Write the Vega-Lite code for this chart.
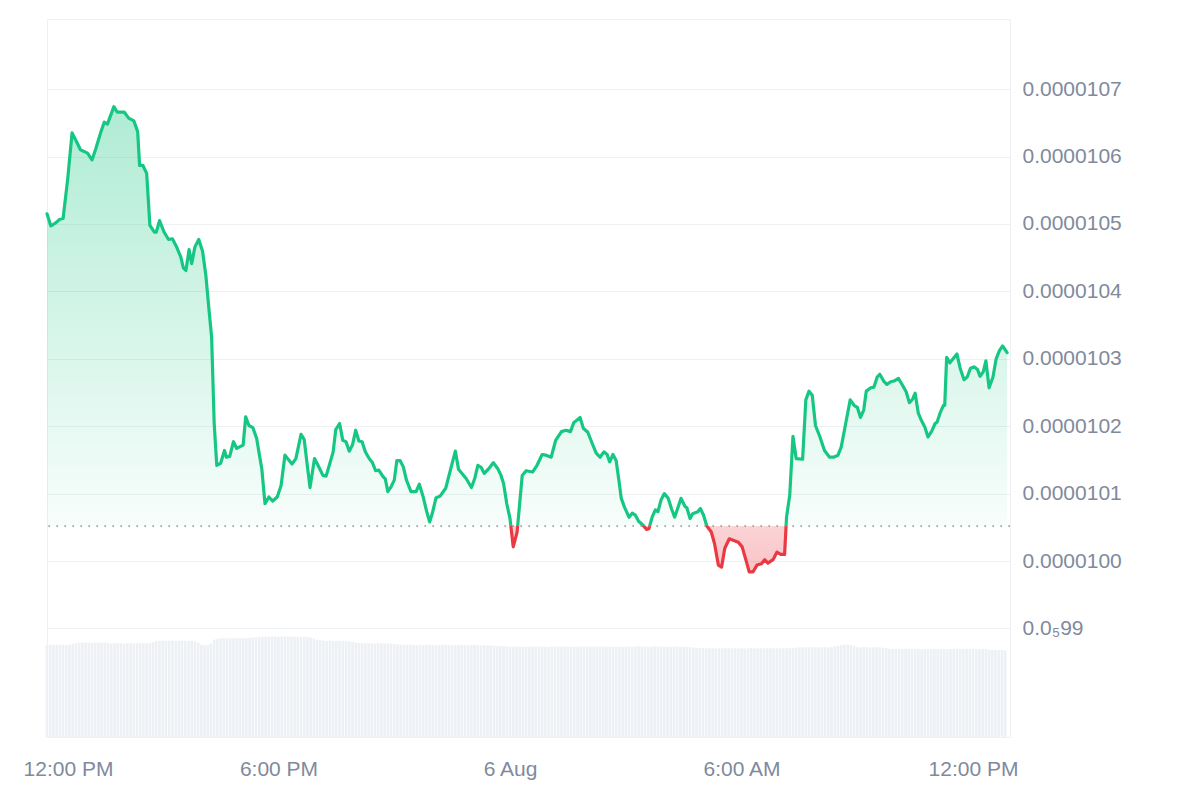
{
  "$schema": "https://vega.github.io/schema/vega-lite/v6.json",
  "width": 963,
  "height": 718,
  "autosize": {"type": "none"},
  "padding": {"left": 47, "top": 19, "right": 190, "bottom": 63},
  "config": {"view": {"stroke": "#eef0f3", "strokeWidth": 1}, "font": "Liberation Sans"},
  "datasets": {
    "price": [
      {"t":"2024-08-05T12:00","p":0.000010515},{"t":"2024-08-05T12:06","p":0.000010497},{"t":"2024-08-05T12:14","p":0.000010502},{"t":"2024-08-05T12:20","p":0.000010507},{"t":"2024-08-05T12:25","p":0.000010508},{"t":"2024-08-05T12:32","p":0.000010565},{"t":"2024-08-05T12:39","p":0.000010635},{"t":"2024-08-05T12:46","p":0.000010622},{"t":"2024-08-05T12:52","p":0.000010610},
      {"t":"2024-08-05T13:03","p":0.000010605},{"t":"2024-08-05T13:10","p":0.000010595},{"t":"2024-08-05T13:16","p":0.000010612},{"t":"2024-08-05T13:24","p":0.000010637},{"t":"2024-08-05T13:29","p":0.000010651},{"t":"2024-08-05T13:34","p":0.000010648},{"t":"2024-08-05T13:39","p":0.000010661},{"t":"2024-08-05T13:44","p":0.000010674},{"t":"2024-08-05T13:49","p":0.000010666},
      {"t":"2024-08-05T14:00","p":0.000010666},{"t":"2024-08-05T14:07","p":0.000010657},{"t":"2024-08-05T14:15","p":0.000010653},{"t":"2024-08-05T14:21","p":0.000010637},{"t":"2024-08-05T14:24","p":0.000010587},{"t":"2024-08-05T14:29","p":0.000010587},{"t":"2024-08-05T14:35","p":0.000010575},{"t":"2024-08-05T14:40","p":0.000010498},{"t":"2024-08-05T14:47","p":0.000010488},{"t":"2024-08-05T14:50","p":0.000010488},{"t":"2024-08-05T14:55","p":0.000010505},
      {"t":"2024-08-05T15:02","p":0.000010488},{"t":"2024-08-05T15:09","p":0.000010477},{"t":"2024-08-05T15:15","p":0.000010478},{"t":"2024-08-05T15:21","p":0.000010467},{"t":"2024-08-05T15:28","p":0.000010451},{"t":"2024-08-05T15:32","p":0.000010435},{"t":"2024-08-05T15:36","p":0.000010431},{"t":"2024-08-05T15:41","p":0.000010462},{"t":"2024-08-05T15:45","p":0.000010441},{"t":"2024-08-05T15:50","p":0.000010466},{"t":"2024-08-05T15:56","p":0.000010477},
      {"t":"2024-08-05T16:02","p":0.000010459},{"t":"2024-08-05T16:07","p":0.000010424},{"t":"2024-08-05T16:12","p":0.000010372},{"t":"2024-08-05T16:16","p":0.000010332},{"t":"2024-08-05T16:20","p":0.000010204},{"t":"2024-08-05T16:24","p":0.000010142},{"t":"2024-08-05T16:30","p":0.000010145},{"t":"2024-08-05T16:36","p":0.000010164},{"t":"2024-08-05T16:39","p":0.000010154},{"t":"2024-08-05T16:44","p":0.000010155},{"t":"2024-08-05T16:50","p":0.000010177},{"t":"2024-08-05T16:55","p":0.000010167},
      {"t":"2024-08-05T17:05","p":0.000010172},{"t":"2024-08-05T17:09","p":0.000010214},{"t":"2024-08-05T17:14","p":0.000010201},{"t":"2024-08-05T17:20","p":0.000010198},{"t":"2024-08-05T17:26","p":0.000010182},{"t":"2024-08-05T17:30","p":0.000010159},{"t":"2024-08-05T17:34","p":0.000010137},{"t":"2024-08-05T17:39","p":0.000010085},{"t":"2024-08-05T17:45","p":0.000010095},{"t":"2024-08-05T17:51","p":0.000010089},{"t":"2024-08-05T17:58","p":0.000010095},
      {"t":"2024-08-05T18:04","p":0.000010112},{"t":"2024-08-05T18:10","p":0.000010157},{"t":"2024-08-05T18:21","p":0.000010144},{"t":"2024-08-05T18:27","p":0.000010152},{"t":"2024-08-05T18:35","p":0.000010188},{"t":"2024-08-05T18:40","p":0.000010180},{"t":"2024-08-05T18:45","p":0.000010140},{"t":"2024-08-05T18:49","p":0.000010109},{"t":"2024-08-05T18:56","p":0.000010152},
      {"t":"2024-08-05T19:02","p":0.000010141},{"t":"2024-08-05T19:09","p":0.000010127},{"t":"2024-08-05T19:14","p":0.000010126},{"t":"2024-08-05T19:19","p":0.000010142},{"t":"2024-08-05T19:25","p":0.000010162},{"t":"2024-08-05T19:29","p":0.000010195},{"t":"2024-08-05T19:35","p":0.000010204},{"t":"2024-08-05T19:40","p":0.000010179},{"t":"2024-08-05T19:45","p":0.000010177},{"t":"2024-08-05T19:50","p":0.000010163},{"t":"2024-08-05T19:55","p":0.000010172},
      {"t":"2024-08-05T20:00","p":0.000010194},{"t":"2024-08-05T20:05","p":0.000010178},{"t":"2024-08-05T20:10","p":0.000010177},{"t":"2024-08-05T20:15","p":0.000010162},{"t":"2024-08-05T20:21","p":0.000010152},{"t":"2024-08-05T20:26","p":0.000010146},{"t":"2024-08-05T20:31","p":0.000010134},{"t":"2024-08-05T20:36","p":0.000010135},{"t":"2024-08-05T20:42","p":0.000010126},{"t":"2024-08-05T20:46","p":0.000010122},{"t":"2024-08-05T20:50","p":0.000010103},{"t":"2024-08-05T20:55","p":0.000010110},
      {"t":"2024-08-05T21:00","p":0.000010120},{"t":"2024-08-05T21:04","p":0.000010149},{"t":"2024-08-05T21:09","p":0.000010149},{"t":"2024-08-05T21:14","p":0.000010140},{"t":"2024-08-05T21:19","p":0.000010120},{"t":"2024-08-05T21:26","p":0.000010103},{"t":"2024-08-05T21:34","p":0.000010103},{"t":"2024-08-05T21:39","p":0.000010114},{"t":"2024-08-05T21:45","p":0.000010095},{"t":"2024-08-05T21:50","p":0.000010075},{"t":"2024-08-05T21:55","p":0.000010058},{"t":"2024-08-05T21:59","p":0.000010070},
      {"t":"2024-08-05T22:05","p":0.000010094},{"t":"2024-08-05T22:11","p":0.000010096},{"t":"2024-08-05T22:20","p":0.000010108},{"t":"2024-08-05T22:26","p":0.000010130},{"t":"2024-08-05T22:35","p":0.000010163},{"t":"2024-08-05T22:40","p":0.000010136},{"t":"2024-08-05T22:46","p":0.000010129},{"t":"2024-08-05T22:52","p":0.000010122},
      {"t":"2024-08-05T23:00","p":0.000010109},{"t":"2024-08-05T23:05","p":0.000010122},{"t":"2024-08-05T23:10","p":0.000010142},{"t":"2024-08-05T23:15","p":0.000010139},{"t":"2024-08-05T23:20","p":0.000010130},{"t":"2024-08-05T23:27","p":0.000010137},{"t":"2024-08-05T23:34","p":0.000010146},{"t":"2024-08-05T23:41","p":0.000010137},{"t":"2024-08-05T23:46","p":0.000010127},{"t":"2024-08-05T23:50","p":0.000010115},{"t":"2024-08-05T23:55","p":0.000010085},
      {"t":"2024-08-06T00:00","p":0.000010063},{"t":"2024-08-06T00:05","p":0.000010021},{"t":"2024-08-06T00:11","p":0.000010043},{"t":"2024-08-06T00:15","p":0.000010085},{"t":"2024-08-06T00:19","p":0.000010127},{"t":"2024-08-06T00:25","p":0.000010134},{"t":"2024-08-06T00:35","p":0.000010132},{"t":"2024-08-06T00:42","p":0.000010142},{"t":"2024-08-06T00:50","p":0.000010158},{"t":"2024-08-06T00:56","p":0.000010157},
      {"t":"2024-08-06T01:04","p":0.000010154},{"t":"2024-08-06T01:11","p":0.000010179},{"t":"2024-08-06T01:20","p":0.000010192},{"t":"2024-08-06T01:27","p":0.000010194},{"t":"2024-08-06T01:34","p":0.000010192},{"t":"2024-08-06T01:39","p":0.000010205},{"t":"2024-08-06T01:44","p":0.000010209},{"t":"2024-08-06T01:49","p":0.000010213},{"t":"2024-08-06T01:54","p":0.000010197},
      {"t":"2024-08-06T02:01","p":0.000010191},{"t":"2024-08-06T02:08","p":0.000010174},{"t":"2024-08-06T02:14","p":0.000010160},{"t":"2024-08-06T02:20","p":0.000010154},{"t":"2024-08-06T02:26","p":0.000010162},{"t":"2024-08-06T02:31","p":0.000010158},{"t":"2024-08-06T02:35","p":0.000010147},{"t":"2024-08-06T02:40","p":0.000010158},{"t":"2024-08-06T02:45","p":0.000010149},{"t":"2024-08-06T02:49","p":0.000010122},{"t":"2024-08-06T02:53","p":0.000010093},{"t":"2024-08-06T02:58","p":0.000010080},
      {"t":"2024-08-06T03:05","p":0.000010065},{"t":"2024-08-06T03:10","p":0.000010071},{"t":"2024-08-06T03:15","p":0.000010068},{"t":"2024-08-06T03:20","p":0.000010059},{"t":"2024-08-06T03:27","p":0.000010053},{"t":"2024-08-06T03:32","p":0.000010047},{"t":"2024-08-06T03:36","p":0.000010048},{"t":"2024-08-06T03:41","p":0.000010065},{"t":"2024-08-06T03:46","p":0.000010076},{"t":"2024-08-06T03:50","p":0.000010073},{"t":"2024-08-06T03:55","p":0.000010091},
      {"t":"2024-08-06T04:00","p":0.000010100},{"t":"2024-08-06T04:06","p":0.000010093},{"t":"2024-08-06T04:11","p":0.000010078},{"t":"2024-08-06T04:16","p":0.000010065},{"t":"2024-08-06T04:20","p":0.000010076},{"t":"2024-08-06T04:26","p":0.000010093},{"t":"2024-08-06T04:32","p":0.000010081},{"t":"2024-08-06T04:35","p":0.000010079},{"t":"2024-08-06T04:40","p":0.000010063},{"t":"2024-08-06T04:44","p":0.000010070},{"t":"2024-08-06T04:52","p":0.000010073},{"t":"2024-08-06T04:56","p":0.000010078},
      {"t":"2024-08-06T05:01","p":0.000010068},{"t":"2024-08-06T05:06","p":0.000010052},{"t":"2024-08-06T05:13","p":0.000010043},{"t":"2024-08-06T05:18","p":0.000010026},{"t":"2024-08-06T05:24","p":0.000009994},{"t":"2024-08-06T05:29","p":0.000009991},{"t":"2024-08-06T05:34","p":0.000010019},{"t":"2024-08-06T05:41","p":0.000010033},{"t":"2024-08-06T05:47","p":0.000010031},{"t":"2024-08-06T05:55","p":0.000010028},
      {"t":"2024-08-06T06:01","p":0.000010021},{"t":"2024-08-06T06:07","p":0.000010001},{"t":"2024-08-06T06:12","p":0.000009984},{"t":"2024-08-06T06:18","p":0.000009984},{"t":"2024-08-06T06:24","p":0.000009994},{"t":"2024-08-06T06:31","p":0.000009996},{"t":"2024-08-06T06:36","p":0.000010002},{"t":"2024-08-06T06:41","p":0.000009997},{"t":"2024-08-06T06:49","p":0.000010002},{"t":"2024-08-06T06:55","p":0.000010013},
      {"t":"2024-08-06T07:01","p":0.000010010},{"t":"2024-08-06T07:07","p":0.000010010},{"t":"2024-08-06T07:10","p":0.000010065},{"t":"2024-08-06T07:15","p":0.000010098},{"t":"2024-08-06T07:20","p":0.000010185},{"t":"2024-08-06T07:25","p":0.000010152},{"t":"2024-08-06T07:35","p":0.000010151},{"t":"2024-08-06T07:40","p":0.000010239},{"t":"2024-08-06T07:45","p":0.000010252},{"t":"2024-08-06T07:50","p":0.000010246},{"t":"2024-08-06T07:55","p":0.000010201},
      {"t":"2024-08-06T08:02","p":0.000010184},{"t":"2024-08-06T08:09","p":0.000010164},{"t":"2024-08-06T08:17","p":0.000010154},{"t":"2024-08-06T08:23","p":0.000010154},{"t":"2024-08-06T08:30","p":0.000010157},{"t":"2024-08-06T08:35","p":0.000010169},{"t":"2024-08-06T08:42","p":0.000010204},{"t":"2024-08-06T08:49","p":0.000010239},{"t":"2024-08-06T08:55","p":0.000010231},
      {"t":"2024-08-06T09:00","p":0.000010228},{"t":"2024-08-06T09:05","p":0.000010213},{"t":"2024-08-06T09:10","p":0.000010224},{"t":"2024-08-06T09:14","p":0.000010252},{"t":"2024-08-06T09:21","p":0.000010257},{"t":"2024-08-06T09:26","p":0.000010258},{"t":"2024-08-06T09:31","p":0.000010273},{"t":"2024-08-06T09:35","p":0.000010277},{"t":"2024-08-06T09:41","p":0.000010267},{"t":"2024-08-06T09:46","p":0.000010262},{"t":"2024-08-06T09:52","p":0.000010266},{"t":"2024-08-06T09:57","p":0.000010267},
      {"t":"2024-08-06T10:04","p":0.000010271},{"t":"2024-08-06T10:09","p":0.000010263},{"t":"2024-08-06T10:16","p":0.000010251},{"t":"2024-08-06T10:21","p":0.000010235},{"t":"2024-08-06T10:26","p":0.000010240},{"t":"2024-08-06T10:30","p":0.000010249},{"t":"2024-08-06T10:35","p":0.000010219},{"t":"2024-08-06T10:40","p":0.000010208},{"t":"2024-08-06T10:45","p":0.000010199},{"t":"2024-08-06T10:50","p":0.000010184},{"t":"2024-08-06T10:56","p":0.000010193},
      {"t":"2024-08-06T11:01","p":0.000010204},{"t":"2024-08-06T11:04","p":0.000010206},{"t":"2024-08-06T11:09","p":0.000010220},{"t":"2024-08-06T11:14","p":0.000010231},{"t":"2024-08-06T11:16","p":0.000010231},{"t":"2024-08-06T11:19","p":0.000010302},{"t":"2024-08-06T11:24","p":0.000010294},{"t":"2024-08-06T11:29","p":0.000010300},{"t":"2024-08-06T11:35","p":0.000010307},{"t":"2024-08-06T11:40","p":0.000010286},{"t":"2024-08-06T11:46","p":0.000010269},{"t":"2024-08-06T11:51","p":0.000010273},{"t":"2024-08-06T11:56","p":0.000010286},
      {"t":"2024-08-06T12:02","p":0.000010288},{"t":"2024-08-06T12:07","p":0.000010284},{"t":"2024-08-06T12:11","p":0.000010274},{"t":"2024-08-06T12:16","p":0.000010281},{"t":"2024-08-06T12:20","p":0.000010297},{"t":"2024-08-06T12:25","p":0.000010257},{"t":"2024-08-06T12:31","p":0.000010273},{"t":"2024-08-06T12:36","p":0.000010300},{"t":"2024-08-06T12:41","p":0.000010312},{"t":"2024-08-06T12:46","p":0.000010319},{"t":"2024-08-06T12:53","p":0.000010309}
    ],
    "vol": [
      {"t":"2024-08-05T12:00","v":92.0},{"t":"2024-08-05T12:05","v":92.3},{"t":"2024-08-05T12:10","v":91.8},{"t":"2024-08-05T12:15","v":92.1},{"t":"2024-08-05T12:20","v":92.4},{"t":"2024-08-05T12:25","v":92.2},{"t":"2024-08-05T12:30","v":91.9},{"t":"2024-08-05T12:35","v":92.5},{"t":"2024-08-05T12:40","v":93.0},{"t":"2024-08-05T12:45","v":94.0},{"t":"2024-08-05T12:50","v":94.4},{"t":"2024-08-05T12:55","v":94.2},
      {"t":"2024-08-05T13:00","v":94.6},{"t":"2024-08-05T13:05","v":94.3},{"t":"2024-08-05T13:10","v":94.1},{"t":"2024-08-05T13:15","v":94.5},{"t":"2024-08-05T13:20","v":94.3},{"t":"2024-08-05T13:25","v":94.2},{"t":"2024-08-05T13:30","v":94.4},{"t":"2024-08-05T13:35","v":94.0},{"t":"2024-08-05T13:40","v":93.5},{"t":"2024-08-05T13:45","v":93.8},{"t":"2024-08-05T13:50","v":93.6},{"t":"2024-08-05T13:55","v":93.9},
      {"t":"2024-08-05T14:00","v":93.4},{"t":"2024-08-05T14:05","v":93.7},{"t":"2024-08-05T14:10","v":93.8},{"t":"2024-08-05T14:15","v":93.5},{"t":"2024-08-05T14:20","v":93.9},{"t":"2024-08-05T14:25","v":94.0},{"t":"2024-08-05T14:30","v":93.6},{"t":"2024-08-05T14:35","v":93.8},{"t":"2024-08-05T14:40","v":94.2},{"t":"2024-08-05T14:45","v":94.8},{"t":"2024-08-05T14:50","v":95.8},{"t":"2024-08-05T14:55","v":96.2},
      {"t":"2024-08-05T15:00","v":96.5},{"t":"2024-08-05T15:05","v":96.0},{"t":"2024-08-05T15:10","v":96.4},{"t":"2024-08-05T15:15","v":96.6},{"t":"2024-08-05T15:20","v":96.1},{"t":"2024-08-05T15:25","v":96.3},{"t":"2024-08-05T15:30","v":96.5},{"t":"2024-08-05T15:35","v":96.2},{"t":"2024-08-05T15:40","v":96.0},{"t":"2024-08-05T15:45","v":96.4},{"t":"2024-08-05T15:50","v":95.6},{"t":"2024-08-05T15:55","v":94.5},
      {"t":"2024-08-05T16:00","v":92.3},{"t":"2024-08-05T16:05","v":91.8},{"t":"2024-08-05T16:10","v":92.0},{"t":"2024-08-05T16:15","v":93.5},{"t":"2024-08-05T16:20","v":97.5},{"t":"2024-08-05T16:25","v":98.2},{"t":"2024-08-05T16:30","v":98.6},{"t":"2024-08-05T16:35","v":98.8},{"t":"2024-08-05T16:40","v":98.5},{"t":"2024-08-05T16:45","v":98.9},{"t":"2024-08-05T16:50","v":98.7},{"t":"2024-08-05T16:55","v":98.6},
      {"t":"2024-08-05T17:00","v":99.0},{"t":"2024-08-05T17:05","v":98.8},{"t":"2024-08-05T17:10","v":98.7},{"t":"2024-08-05T17:15","v":99.1},{"t":"2024-08-05T17:20","v":99.4},{"t":"2024-08-05T17:25","v":99.8},{"t":"2024-08-05T17:30","v":100.0},{"t":"2024-08-05T17:35","v":100.3},{"t":"2024-08-05T17:40","v":100.5},{"t":"2024-08-05T17:45","v":100.2},{"t":"2024-08-05T17:50","v":100.6},{"t":"2024-08-05T17:55","v":100.4},
      {"t":"2024-08-05T18:00","v":100.3},{"t":"2024-08-05T18:05","v":100.7},{"t":"2024-08-05T18:10","v":100.5},{"t":"2024-08-05T18:15","v":100.4},{"t":"2024-08-05T18:20","v":100.6},{"t":"2024-08-05T18:25","v":100.3},{"t":"2024-08-05T18:30","v":100.5},{"t":"2024-08-05T18:35","v":100.2},{"t":"2024-08-05T18:40","v":100.4},{"t":"2024-08-05T18:45","v":100.1},{"t":"2024-08-05T18:50","v":99.6},{"t":"2024-08-05T18:55","v":98.5},
      {"t":"2024-08-05T19:00","v":97.2},{"t":"2024-08-05T19:05","v":96.8},{"t":"2024-08-05T19:10","v":96.5},{"t":"2024-08-05T19:15","v":96.2},{"t":"2024-08-05T19:20","v":96.4},{"t":"2024-08-05T19:25","v":96.1},{"t":"2024-08-05T19:30","v":96.3},{"t":"2024-08-05T19:35","v":96.0},{"t":"2024-08-05T19:40","v":96.2},{"t":"2024-08-05T19:45","v":95.8},{"t":"2024-08-05T19:50","v":95.5},{"t":"2024-08-05T19:55","v":95.0},
      {"t":"2024-08-05T20:00","v":94.5},{"t":"2024-08-05T20:05","v":94.0},{"t":"2024-08-05T20:10","v":93.8},{"t":"2024-08-05T20:15","v":93.6},{"t":"2024-08-05T20:20","v":93.9},{"t":"2024-08-05T20:25","v":93.7},{"t":"2024-08-05T20:30","v":93.5},{"t":"2024-08-05T20:35","v":93.8},{"t":"2024-08-05T20:40","v":93.6},{"t":"2024-08-05T20:45","v":93.4},{"t":"2024-08-05T20:50","v":93.7},{"t":"2024-08-05T20:55","v":93.3},
      {"t":"2024-08-05T21:00","v":93.0},{"t":"2024-08-05T21:05","v":92.6},{"t":"2024-08-05T21:10","v":92.3},{"t":"2024-08-05T21:15","v":92.0},{"t":"2024-08-05T21:20","v":92.2},{"t":"2024-08-05T21:25","v":92.5},{"t":"2024-08-05T21:30","v":92.1},{"t":"2024-08-05T21:35","v":91.9},{"t":"2024-08-05T21:40","v":92.3},{"t":"2024-08-05T21:45","v":92.0},{"t":"2024-08-05T21:50","v":92.4},{"t":"2024-08-05T21:55","v":92.2},
      {"t":"2024-08-05T22:00","v":91.8},{"t":"2024-08-05T22:05","v":92.0},{"t":"2024-08-05T22:10","v":92.3},{"t":"2024-08-05T22:15","v":92.1},{"t":"2024-08-05T22:20","v":91.9},{"t":"2024-08-05T22:25","v":92.2},{"t":"2024-08-05T22:30","v":92.0},{"t":"2024-08-05T22:35","v":91.8},{"t":"2024-08-05T22:40","v":92.1},{"t":"2024-08-05T22:45","v":91.9},{"t":"2024-08-05T22:50","v":92.0},{"t":"2024-08-05T22:55","v":91.7},
      {"t":"2024-08-05T23:00","v":91.9},{"t":"2024-08-05T23:05","v":92.1},{"t":"2024-08-05T23:10","v":91.8},{"t":"2024-08-05T23:15","v":91.6},{"t":"2024-08-05T23:20","v":91.9},{"t":"2024-08-05T23:25","v":91.7},{"t":"2024-08-05T23:30","v":91.5},{"t":"2024-08-05T23:35","v":91.3},{"t":"2024-08-05T23:40","v":91.0},{"t":"2024-08-05T23:45","v":90.8},{"t":"2024-08-05T23:50","v":90.9},{"t":"2024-08-05T23:55","v":90.6},
      {"t":"2024-08-06T00:00","v":90.5},{"t":"2024-08-06T00:05","v":90.3},{"t":"2024-08-06T00:10","v":90.6},{"t":"2024-08-06T00:15","v":90.2},{"t":"2024-08-06T00:20","v":90.4},{"t":"2024-08-06T00:25","v":90.1},{"t":"2024-08-06T00:30","v":90.5},{"t":"2024-08-06T00:35","v":90.3},{"t":"2024-08-06T00:40","v":90.2},{"t":"2024-08-06T00:45","v":90.6},{"t":"2024-08-06T00:50","v":90.4},{"t":"2024-08-06T00:55","v":90.3},
      {"t":"2024-08-06T01:00","v":90.1},{"t":"2024-08-06T01:05","v":90.5},{"t":"2024-08-06T01:10","v":90.2},{"t":"2024-08-06T01:15","v":90.4},{"t":"2024-08-06T01:20","v":90.3},{"t":"2024-08-06T01:25","v":90.6},{"t":"2024-08-06T01:30","v":90.2},{"t":"2024-08-06T01:35","v":90.4},{"t":"2024-08-06T01:40","v":90.1},{"t":"2024-08-06T01:45","v":90.3},{"t":"2024-08-06T01:50","v":90.5},{"t":"2024-08-06T01:55","v":90.2},
      {"t":"2024-08-06T02:00","v":90.4},{"t":"2024-08-06T02:05","v":90.3},{"t":"2024-08-06T02:10","v":90.1},{"t":"2024-08-06T02:15","v":90.4},{"t":"2024-08-06T02:20","v":90.6},{"t":"2024-08-06T02:25","v":90.2},{"t":"2024-08-06T02:30","v":90.3},{"t":"2024-08-06T02:35","v":90.5},{"t":"2024-08-06T02:40","v":90.1},{"t":"2024-08-06T02:45","v":90.3},{"t":"2024-08-06T02:50","v":90.4},{"t":"2024-08-06T02:55","v":90.2},
      {"t":"2024-08-06T03:00","v":90.3},{"t":"2024-08-06T03:05","v":90.6},{"t":"2024-08-06T03:10","v":90.2},{"t":"2024-08-06T03:15","v":90.4},{"t":"2024-08-06T03:20","v":90.7},{"t":"2024-08-06T03:25","v":90.3},{"t":"2024-08-06T03:30","v":90.5},{"t":"2024-08-06T03:35","v":90.1},{"t":"2024-08-06T03:40","v":90.4},{"t":"2024-08-06T03:45","v":90.6},{"t":"2024-08-06T03:50","v":90.3},{"t":"2024-08-06T03:55","v":90.2},
      {"t":"2024-08-06T04:00","v":90.5},{"t":"2024-08-06T04:05","v":90.4},{"t":"2024-08-06T04:10","v":90.1},{"t":"2024-08-06T04:15","v":90.3},{"t":"2024-08-06T04:20","v":90.6},{"t":"2024-08-06T04:25","v":90.2},{"t":"2024-08-06T04:30","v":90.4},{"t":"2024-08-06T04:35","v":90.0},{"t":"2024-08-06T04:40","v":89.8},{"t":"2024-08-06T04:45","v":89.5},{"t":"2024-08-06T04:50","v":89.2},{"t":"2024-08-06T04:55","v":89.0},
      {"t":"2024-08-06T05:00","v":88.8},{"t":"2024-08-06T05:05","v":88.6},{"t":"2024-08-06T05:10","v":88.9},{"t":"2024-08-06T05:15","v":88.7},{"t":"2024-08-06T05:20","v":88.5},{"t":"2024-08-06T05:25","v":88.8},{"t":"2024-08-06T05:30","v":88.6},{"t":"2024-08-06T05:35","v":88.7},{"t":"2024-08-06T05:40","v":88.9},{"t":"2024-08-06T05:45","v":88.5},{"t":"2024-08-06T05:50","v":88.7},{"t":"2024-08-06T05:55","v":88.6},
      {"t":"2024-08-06T06:00","v":88.8},{"t":"2024-08-06T06:05","v":88.4},{"t":"2024-08-06T06:10","v":88.7},{"t":"2024-08-06T06:15","v":88.9},{"t":"2024-08-06T06:20","v":88.6},{"t":"2024-08-06T06:25","v":88.5},{"t":"2024-08-06T06:30","v":88.8},{"t":"2024-08-06T06:35","v":88.7},{"t":"2024-08-06T06:40","v":88.6},{"t":"2024-08-06T06:45","v":88.9},{"t":"2024-08-06T06:50","v":88.5},{"t":"2024-08-06T06:55","v":88.7},
      {"t":"2024-08-06T07:00","v":88.8},{"t":"2024-08-06T07:05","v":88.6},{"t":"2024-08-06T07:10","v":88.7},{"t":"2024-08-06T07:15","v":88.9},{"t":"2024-08-06T07:20","v":89.1},{"t":"2024-08-06T07:25","v":89.4},{"t":"2024-08-06T07:30","v":89.6},{"t":"2024-08-06T07:35","v":89.8},{"t":"2024-08-06T07:40","v":89.5},{"t":"2024-08-06T07:45","v":89.9},{"t":"2024-08-06T07:50","v":89.7},{"t":"2024-08-06T07:55","v":89.6},
      {"t":"2024-08-06T08:00","v":89.8},{"t":"2024-08-06T08:05","v":89.7},{"t":"2024-08-06T08:10","v":89.9},{"t":"2024-08-06T08:15","v":89.6},{"t":"2024-08-06T08:20","v":89.8},{"t":"2024-08-06T08:25","v":90.5},{"t":"2024-08-06T08:30","v":91.2},{"t":"2024-08-06T08:35","v":91.8},{"t":"2024-08-06T08:40","v":92.2},{"t":"2024-08-06T08:45","v":92.4},{"t":"2024-08-06T08:50","v":91.9},{"t":"2024-08-06T08:55","v":91.0},
      {"t":"2024-08-06T09:00","v":89.8},{"t":"2024-08-06T09:05","v":89.6},{"t":"2024-08-06T09:10","v":89.9},{"t":"2024-08-06T09:15","v":89.7},{"t":"2024-08-06T09:20","v":89.5},{"t":"2024-08-06T09:25","v":89.8},{"t":"2024-08-06T09:30","v":89.6},{"t":"2024-08-06T09:35","v":89.7},{"t":"2024-08-06T09:40","v":89.2},{"t":"2024-08-06T09:45","v":88.7},{"t":"2024-08-06T09:50","v":88.1},{"t":"2024-08-06T09:55","v":87.9},
      {"t":"2024-08-06T10:00","v":88.2},{"t":"2024-08-06T10:05","v":88.0},{"t":"2024-08-06T10:10","v":87.8},{"t":"2024-08-06T10:15","v":88.1},{"t":"2024-08-06T10:20","v":88.3},{"t":"2024-08-06T10:25","v":87.9},{"t":"2024-08-06T10:30","v":88.0},{"t":"2024-08-06T10:35","v":88.2},{"t":"2024-08-06T10:40","v":87.8},{"t":"2024-08-06T10:45","v":88.1},{"t":"2024-08-06T10:50","v":88.0},{"t":"2024-08-06T10:55","v":87.9},
      {"t":"2024-08-06T11:00","v":88.2},{"t":"2024-08-06T11:05","v":88.0},{"t":"2024-08-06T11:10","v":87.8},{"t":"2024-08-06T11:15","v":88.1},{"t":"2024-08-06T11:20","v":87.9},{"t":"2024-08-06T11:25","v":88.0},{"t":"2024-08-06T11:30","v":88.3},{"t":"2024-08-06T11:35","v":88.1},{"t":"2024-08-06T11:40","v":87.8},{"t":"2024-08-06T11:45","v":88.0},{"t":"2024-08-06T11:50","v":88.2},{"t":"2024-08-06T11:55","v":87.9},
      {"t":"2024-08-06T12:00","v":88.1},{"t":"2024-08-06T12:05","v":88.0},{"t":"2024-08-06T12:10","v":87.7},{"t":"2024-08-06T12:15","v":87.9},{"t":"2024-08-06T12:20","v":88.0},{"t":"2024-08-06T12:25","v":87.2},{"t":"2024-08-06T12:30","v":86.9},{"t":"2024-08-06T12:35","v":87.1},{"t":"2024-08-06T12:40","v":86.8},{"t":"2024-08-06T12:45","v":87.0},{"t":"2024-08-06T12:50","v":86.5}
    ]
  },
  "layer": [
    {
      "data": {"name": "vol"},
      "mark": {"type": "bar", "width": 2.6, "color": "#edf0f4"},
      "encoding": {
        "x": {
          "field": "t", "type": "temporal",
          "scale": {"padding": 0, "domain": [{"year": 2024, "month": 8, "date": 5, "hours": 12}, {"year": 2024, "month": 8, "date": 6, "hours": 12, "minutes": 57, "seconds": 30}]},
          "axis": {
            "values": [{"year": 2024, "month": 8, "date": 5, "hours": 12}, {"year": 2024, "month": 8, "date": 5, "hours": 18}, {"year": 2024, "month": 8, "date": 6, "hours": 0}, {"year": 2024, "month": 8, "date": 6, "hours": 6}, {"year": 2024, "month": 8, "date": 6, "hours": 12}],
            "labelExpr": "hours(datum.value) == 0 ? timeFormat(datum.value, '%-d %b') : timeFormat(datum.value, '%-I:%M %p')",
            "title": null, "grid": false, "ticks": false, "domain": false,
            "labelFlush": false, "labelOverlap": false, "labelPadding": 21,
            "labelOffset": {"condition": {"test": "date(datum.value) == 5 && hours(datum.value) == 12", "value": 21}, "value": 0},
            "labelFontSize": 21, "labelColor": "#808a9d", "labelFont": "Liberation Sans"
          }
        },
        "y": {"field": "v", "type": "quantitative", "scale": {"domain": [0, 718]}, "axis": null}
      }
    },
    {
      "data": {"name": "price"},
      "encoding": {
        "x": {
          "field": "t", "type": "temporal",
          "scale": {"padding": 0, "domain": [{"year": 2024, "month": 8, "date": 5, "hours": 12}, {"year": 2024, "month": 8, "date": 6, "hours": 12, "minutes": 57, "seconds": 30}]},
          "axis": {
            "values": [{"year": 2024, "month": 8, "date": 5, "hours": 12}, {"year": 2024, "month": 8, "date": 5, "hours": 18}, {"year": 2024, "month": 8, "date": 6, "hours": 0}, {"year": 2024, "month": 8, "date": 6, "hours": 6}, {"year": 2024, "month": 8, "date": 6, "hours": 12}],
            "labelExpr": "hours(datum.value) == 0 ? timeFormat(datum.value, '%-d %b') : timeFormat(datum.value, '%-I:%M %p')",
            "title": null, "grid": false, "ticks": false, "domain": false,
            "labelFlush": false, "labelOverlap": false, "labelPadding": 21,
            "labelOffset": {"condition": {"test": "date(datum.value) == 5 && hours(datum.value) == 12", "value": 21}, "value": 0},
            "labelFontSize": 21, "labelColor": "#808a9d", "labelFont": "Liberation Sans"
          }
        },
        "y": {
          "field": "p", "type": "quantitative",
          "scale": {"domain": [0.000009739, 0.000010804], "zero": false, "nice": false},
          "axis": {
            "orient": "right",
            "values": [0.0000099, 0.00001, 0.0000101, 0.0000102, 0.0000103, 0.0000104, 0.0000105, 0.0000106, 0.0000107],
            "labelExpr": "datum.value < 0.00000995 ? '0.0₅' + format(datum.value * 10000000, '.0f') : format(datum.value, '.7f')",
            "title": null, "grid": true, "gridColor": "#eef0f3", "gridWidth": 1,
            "ticks": false, "domain": false, "labelPadding": 12, "labelAlign": "left",
            "labelFontSize": 21, "labelColor": "#808a9d", "labelFont": "Liberation Sans"
          }
        }
      },
      "layer": [
        {
          "mark": {
            "type": "area", "opacity": 1, "line": false,
            "fill": {"gradient": "linear", "x1": 0, "y1": 0, "x2": 0, "y2": 1,
              "stops": [
                {"offset": 0, "color": "rgba(22,199,132,0.34)"},
                {"offset": 0.9014, "color": "rgba(22,199,132,0.03)"},
                {"offset": 0.9014, "color": "rgba(234,57,67,0.22)"},
                {"offset": 1, "color": "rgba(234,57,67,0.3)"}
              ]}
          },
          "encoding": {"y2": {"datum": 0.000010052}}
        },
        {
          "mark": {
            "type": "line", "strokeWidth": 3.2, "strokeJoin": "round", "strokeCap": "round",
            "stroke": {"gradient": "linear", "x1": 0, "y1": 0, "x2": 0, "y2": 1,
              "stops": [
                {"offset": 0, "color": "#16c784"},
                {"offset": 0.9014, "color": "#16c784"},
                {"offset": 0.9014, "color": "#ea3943"},
                {"offset": 1, "color": "#ea3943"}
              ]}
          }
        }
      ]
    },
    {
      "data": {"values": [{}]},
      "mark": {"type": "rule", "stroke": "#8f949c", "strokeWidth": 1.6, "strokeDash": [1.6, 6.4]},
      "encoding": {
        "y": {"datum": 0.000010052, "type": "quantitative", "scale": {"domain": [0.000009739, 0.000010804], "zero": false, "nice": false}, "axis": null}
      }
    }
  ],
  "resolve": {"scale": {"y": "independent"}}
}
